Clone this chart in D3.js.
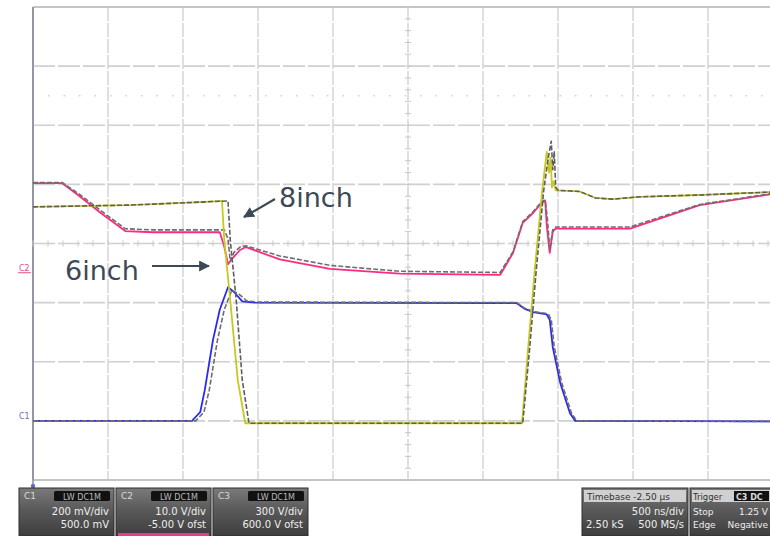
<!DOCTYPE html>
<html><head><meta charset="utf-8">
<script src="https://cdn.jsdelivr.net/npm/d3@7/dist/d3.min.js"></script>
<style>body{margin:0;background:#fff}svg{display:block}</style>
</head><body>
<script>
// Time axis in screen divisions (500 ns/div), voltage in screen divisions (center = 0)
const c3Time6 = [0,1.29,2.23,2.52,2.55,2.63,2.73,2.83,6.52,6.60,6.69,6.79,6.85,6.88,6.90,6.92,6.94,6.97,7.29,7.50,7.73,8.09,8.89,9.83,10];
const c3Val6  = [0.62,0.65,0.70,0.72,0.06,-0.96,-2.31,-3.04,-3.04,-1.80,-0.45,0.90,1.55,1.20,1.45,0.95,1.05,0.90,0.88,0.77,0.75,0.79,0.82,0.87,0.88];
const c3Time8 = [0,1.29,2.23,2.60,2.63,2.71,2.79,2.88,6.53,6.62,6.71,6.81,6.87,6.91,6.93,6.95,6.97,7.0,7.29,7.50,7.73,8.09,8.89,9.83,10];
const c3Val8  = [0.62,0.65,0.70,0.72,0.06,-0.96,-2.31,-3.04,-3.04,-1.80,-0.45,0.90,1.45,1.73,1.25,1.55,0.95,0.90,0.88,0.77,0.75,0.79,0.82,0.87,0.88];

const c2Time6 = [0,0.39,0.60,0.90,1.23,1.60,2.49,2.55,2.60,2.66,2.76,2.84,3.29,3.96,4.89,6.23,6.40,6.53,6.67,6.79,6.83,6.85,6.89,6.93,6.97,7.96,8.89,9.83,10];
const c2Val6  = [1.02,1.02,0.82,0.52,0.21,0.19,0.19,-0.05,-0.35,-0.25,-0.11,-0.06,-0.27,-0.43,-0.51,-0.53,-0.16,0.35,0.52,0.70,0.72,0.30,-0.16,0.20,0.25,0.25,0.65,0.83,0.86];
const c2Time8 = [0,0.39,0.60,0.90,1.23,1.60,2.55,2.60,2.63,2.68,2.76,2.84,3.29,3.96,4.89,6.23,6.40,6.53,6.67,6.79,6.83,6.86,6.89,6.93,6.97,7.96,8.89,9.83,10];
const c2Val8  = [1.03,1.03,0.85,0.56,0.25,0.23,0.23,0.08,-0.30,-0.15,-0.06,-0.04,-0.21,-0.37,-0.47,-0.49,-0.14,0.37,0.54,0.72,0.73,0.40,-0.10,0.23,0.28,0.28,0.66,0.84,0.87];

const c1Time6 = [0,2.12,2.23,2.29,2.40,2.49,2.60,2.68,2.79,2.96,6.45,6.55,6.67,6.85,6.89,6.93,7.03,7.16,7.23,10];
const c1Val6  = [-3.00,-3.00,-2.85,-2.48,-1.63,-1.12,-0.74,-0.82,-0.98,-1.00,-1.01,-1.10,-1.16,-1.20,-1.29,-1.75,-2.36,-2.87,-3.00,-3.01];
const c1Time8 = [0,2.17,2.28,2.35,2.46,2.55,2.65,2.75,2.85,3.00,6.45,6.55,6.67,6.87,6.91,6.95,7.05,7.18,7.25,10];
const c1Val8  = [-3.00,-3.00,-2.85,-2.48,-1.63,-1.12,-0.79,-0.86,-0.97,-0.99,-1.00,-1.09,-1.15,-1.19,-1.29,-1.75,-2.36,-2.87,-3.00,-3.01];

const xDivs = d3.range(0, 11);
const yDivs = d3.range(-4, 5);

const chanBoxes = [
  {ch:"C1", vdiv:"200 mV/div", ofs:"500.0 mV", accent:null},
  {ch:"C2", vdiv:"10.0 V/div", ofs:"-5.00 V ofst", accent:"#e0408a"},
  {ch:"C3", vdiv:"300 V/div", ofs:"600.0 V ofst", accent:null}
];
const timebaseTxt = ["Timebase  -2.50 µs", "500 ns/div", "2.50 kS", "500 MS/s"];
const triggerTxt = ["Trigger", "C3 DC", "Stop", "1.25 V", "Edge", "Negative"];

const W = 770, H = 536;
const svg = d3.select("body").append("svg").attr("width", W).attr("height", H);

const x = d3.scaleLinear().domain([0, 10]).range([33, 783]);
const y = d3.scaleLinear().domain([-4, 4]).range([480, 7]);

const grid = svg.append("g");
grid.selectAll("line.v").data(xDivs).join("line")
  .attr("x1", d => x(d)).attr("x2", d => x(d))
  .attr("y1", y(4)).attr("y2", y(-4))
  .attr("stroke", d => d === 0 ? "#9a9a9a" : "#d2d2d2")
  .attr("stroke-width", d => d === 0 ? 1.6 : 1.4)
  .attr("stroke-dasharray", d => d === 0 ? null : "14,2");
grid.selectAll("line.h").data(yDivs).join("line")
  .attr("x1", x(0)).attr("x2", W)
  .attr("y1", d => y(d)).attr("y2", d => y(d))
  .attr("stroke", d => (d === 4 || d === -4) ? "#c4c4c4" : "#d0d0d0")
  .attr("stroke-width", d => (d === 4 || d === -4) ? 2.2 : 1.6)
  .attr("stroke-dasharray", d => (d === 4 || d === -4) ? null : "22,3");
svg.append("line").attr("x1", x(0)).attr("x2", x(0)).attr("y1", y(4)).attr("y2", 486)
  .attr("stroke", "#8a8f9c").attr("stroke-width", 1.5);
svg.append("circle").attr("cx", x(0)).attr("cy", 486).attr("r", 2.2).attr("fill", "#5a6ad0");

const minor = d3.range(0, 50.01, 1).map(i => i / 5);
svg.append("g").selectAll("line").data(minor).join("line")
  .attr("x1", d => x(d)).attr("x2", d => x(d))
  .attr("y1", y(0) - 3).attr("y2", y(0) + 3)
  .attr("stroke", "#c8c8c8").attr("stroke-width", 1);
const minorY = d3.range(-20, 20.01, 1).map(i => i / 5);
svg.append("g").selectAll("line").data(minorY).join("line")
  .attr("x1", x(5) - 3).attr("x2", x(5) + 3)
  .attr("y1", d => y(d)).attr("y2", d => y(d))
  .attr("stroke", "#c8c8c8").attr("stroke-width", 1);
svg.append("line").attr("x1", x(0.2)).attr("x2", W).attr("y1", y(2.5)).attr("y2", y(2.5))
  .attr("stroke", "#cfcfcf").attr("stroke-width", 1.5).attr("stroke-dasharray", "1.5,14");

svg.append("text").attr("x", 19).attr("y", y(-0.41) + 3).attr("font-family", "DejaVu Sans")
  .attr("font-size", 8).attr("fill", "#e0508a").text("C2");
svg.append("line").attr("x1", 18).attr("x2", 31).attr("y1", y(-0.41) + 5).attr("y2", y(-0.41) + 5)
  .attr("stroke", "#e0508a").attr("stroke-width", 1);
svg.append("text").attr("x", 19).attr("y", y(-3.0) - 2).attr("font-family", "DejaVu Sans")
  .attr("font-size", 8).attr("fill", "#6a70a8").text("C1");

const line = d3.line().x(d => x(d[0])).y(d => y(d[1]));
const zip = (t, v) => t.map((d, i) => [d, v[i]]);
const traces = [
  {d: zip(c2Time6, c2Val6), color: "#ff2a80", dash: null, w: 1.8},
  {d: zip(c2Time8, c2Val8), color: "#6e6e6e", dash: "5,2", w: 1.6},
  {d: zip(c1Time6, c1Val6), color: "#2a2af0", dash: null, w: 1.8},
  {d: zip(c1Time8, c1Val8), color: "#6e6e6e", dash: "5,2", w: 1.6},
  {d: zip(c3Time6, c3Val6), color: "#c8c820", dash: null, w: 1.8},
  {d: zip(c3Time8, c3Val8), color: "#5e5e5e", dash: "5,2", w: 1.6}
];
svg.append("clipPath").attr("id", "plot").append("rect")
  .attr("x", x(0)).attr("y", y(4)).attr("width", W - x(0)).attr("height", y(-4) - y(4));
svg.append("g").attr("clip-path", "url(#plot)").selectAll("path").data(traces).join("path")
  .attr("d", d => line(d.d)).attr("fill", "none")
  .attr("stroke", d => d.color).attr("stroke-width", d => d.w)
  .attr("stroke-dasharray", d => d.dash).attr("stroke-linejoin", "round");

const ann = "#3d4a55";
svg.append("defs").append("marker").attr("id", "ah").attr("viewBox", "0 0 10 10")
  .attr("refX", 9).attr("refY", 5).attr("markerWidth", 5).attr("markerHeight", 5)
  .attr("orient", "auto").append("path").attr("d", "M0,0L10,5L0,10z").attr("fill", ann);
svg.append("text").attr("x", 279).attr("y", 207).attr("font-family", "DejaVu Sans")
  .attr("font-size", 27).attr("fill", ann).text("8inch");
svg.append("line").attr("x1", 275).attr("y1", 199).attr("x2", 244).attr("y2", 217)
  .attr("stroke", ann).attr("stroke-width", 2.2).attr("marker-end", "url(#ah)");
svg.append("text").attr("x", 65).attr("y", 280).attr("font-family", "DejaVu Sans")
  .attr("font-size", 27).attr("fill", ann).text("6inch");
svg.append("line").attr("x1", 152).attr("y1", 266).attr("x2", 209).attr("y2", 266)
  .attr("stroke", ann).attr("stroke-width", 2.2).attr("marker-end", "url(#ah)");

const grad = svg.select("defs").append("linearGradient").attr("id", "bg")
  .attr("x1", 0).attr("x2", 0).attr("y1", 0).attr("y2", 1);
grad.append("stop").attr("offset", "0%").attr("stop-color", "#7a7a7a");
grad.append("stop").attr("offset", "45%").attr("stop-color", "#5a5a5a");
grad.append("stop").attr("offset", "100%").attr("stop-color", "#3e3e3e");
const bx = d3.scaleBand().domain(chanBoxes.map(d => d.ch)).range([19, 308]).paddingInner(0.02);
const cb = svg.append("g").selectAll("g").data(chanBoxes).join("g")
  .attr("transform", d => `translate(${bx(d.ch)},488)`);
cb.append("rect").attr("width", bx.bandwidth()).attr("height", 48).attr("fill", "url(#bg)")
  .attr("stroke", "#2e2e2e").attr("stroke-width", 1);
cb.append("text").attr("x", 5).attr("y", 11).attr("font-family", "DejaVu Sans").attr("font-size", 9)
  .attr("fill", "#d8d8d8").text(d => d.ch);
cb.append("rect").attr("x", bx.bandwidth() - 60).attr("y", 3).attr("width", 56).attr("height", 10)
  .attr("fill", "#111").attr("rx", 1.5);
cb.append("text").attr("x", bx.bandwidth() - 32).attr("y", 11.5).attr("text-anchor", "middle")
  .attr("font-family", "DejaVu Sans").attr("font-size", 8).attr("fill", "#bbb").text("LW  DC1M");
cb.append("text").attr("x", bx.bandwidth() - 5).attr("y", 27).attr("text-anchor", "end")
  .attr("font-family", "DejaVu Sans").attr("font-size", 10).attr("fill", "#eee").text(d => d.vdiv);
cb.append("text").attr("x", bx.bandwidth() - 5).attr("y", 40).attr("text-anchor", "end")
  .attr("font-family", "DejaVu Sans").attr("font-size", 10).attr("fill", "#eee").text(d => d.ofs);
cb.filter(d => d.accent).append("rect").attr("x", 2).attr("y", 45).attr("width", bx.bandwidth() - 4)
  .attr("height", 3).attr("fill", d => d.accent);

const tb = svg.append("g").attr("transform", "translate(582,488)");
tb.append("rect").attr("width", 106).attr("height", 48).attr("fill", "url(#bg)").attr("stroke", "#2e2e2e");
tb.append("rect").attr("x", 2).attr("y", 2).attr("width", 102).attr("height", 12).attr("fill", "#d0d0d0");
tb.append("text").attr("x", 5).attr("y", 11.5).attr("font-family", "DejaVu Sans").attr("font-size", 9)
  .attr("fill", "#333").text(timebaseTxt[0]);
tb.append("text").attr("x", 102).attr("y", 27).attr("text-anchor", "end").attr("font-family", "DejaVu Sans")
  .attr("font-size", 10).attr("fill", "#eee").text(timebaseTxt[1]);
tb.append("text").attr("x", 4).attr("y", 40).attr("font-family", "DejaVu Sans")
  .attr("font-size", 10).attr("fill", "#eee").text(timebaseTxt[2]);
tb.append("text").attr("x", 102).attr("y", 40).attr("text-anchor", "end").attr("font-family", "DejaVu Sans")
  .attr("font-size", 10).attr("fill", "#eee").text(timebaseTxt[3]);

const tr = svg.append("g").attr("transform", "translate(690,488)");
tr.append("rect").attr("width", 86).attr("height", 48).attr("fill", "url(#bg)").attr("stroke", "#2e2e2e");
tr.append("rect").attr("x", 2).attr("y", 2).attr("width", 82).attr("height", 12).attr("fill", "#d0d0d0");
tr.append("text").attr("x", 3).attr("y", 11.5).attr("font-family", "DejaVu Sans").attr("font-size", 8.5)
  .attr("fill", "#333").text(triggerTxt[0]);
tr.append("rect").attr("x", 44).attr("y", 3).attr("width", 35).attr("height", 10).attr("fill", "#111");
tr.append("text").attr("x", 46).attr("y", 11.5).attr("font-family", "DejaVu Sans").attr("font-size", 8)
  .attr("font-weight", "bold").attr("fill", "#ddd").text(triggerTxt[1]);
tr.append("text").attr("x", 3).attr("y", 27).attr("font-family", "DejaVu Sans").attr("font-size", 9)
  .attr("fill", "#eee").text(triggerTxt[2]);
tr.append("text").attr("x", 78).attr("y", 27).attr("text-anchor", "end").attr("font-family", "DejaVu Sans")
  .attr("font-size", 9).attr("fill", "#eee").text(triggerTxt[3]);
tr.append("text").attr("x", 3).attr("y", 40).attr("font-family", "DejaVu Sans").attr("font-size", 9)
  .attr("fill", "#eee").text(triggerTxt[4]);
tr.append("text").attr("x", 78).attr("y", 40).attr("text-anchor", "end").attr("font-family", "DejaVu Sans")
  .attr("font-size", 9).attr("fill", "#eee").text(triggerTxt[5]);
</script>
</body></html>
